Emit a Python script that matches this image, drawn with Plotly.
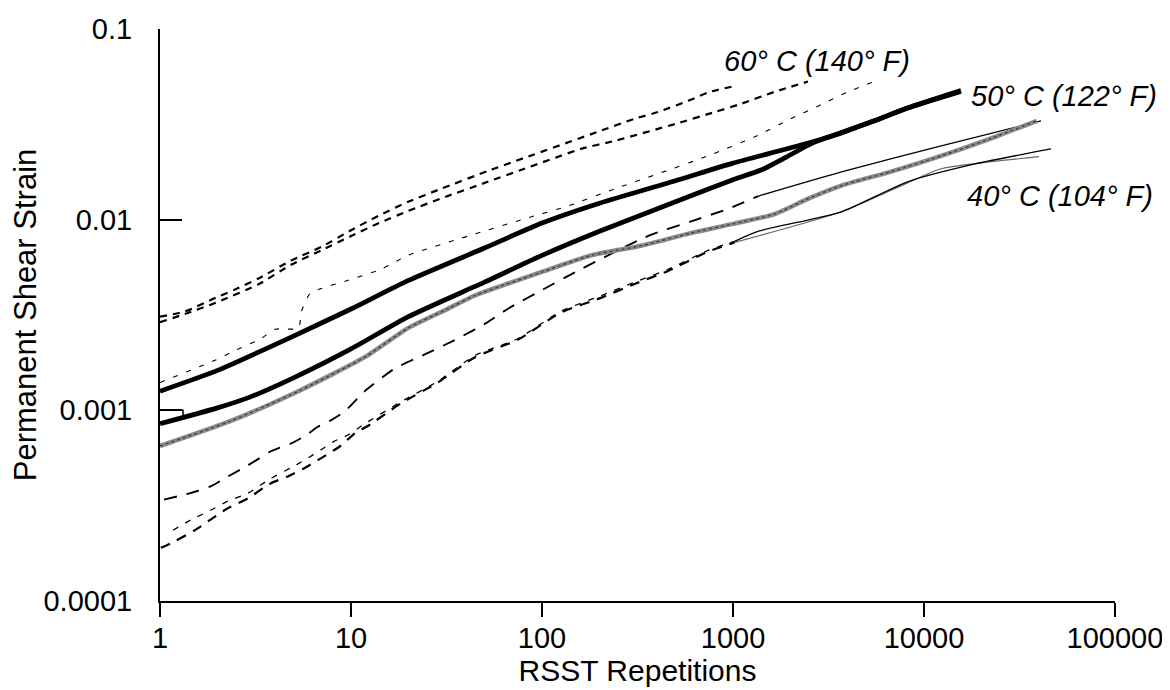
import math
import plotly.graph_objects as go

# ---------------- data ----------------
x_ticks = [1, 10, 100, 1000, 10000, 100000]
x_tick_text = ["1", "10", "100", "1000", "10000", "100000"]
y_ticks = [0.0001, 0.001, 0.01, 0.1]
y_tick_text = ["0.0001", "0.001", "0.01", "0.1"]

# 60 C (140 F) group
c60a_x = [1, 1.35, 1.96, 2.47, 3.26, 4.85, 7, 10, 14, 19.9, 29.5, 52, 81, 196, 305, 405, 600, 740, 1000]
c60a_y = [0.0031, 0.0033, 0.0039, 0.0043, 0.0049, 0.0061, 0.0072, 0.0088, 0.0105, 0.0124, 0.0145, 0.018, 0.0211, 0.0289, 0.0338, 0.0367, 0.0425, 0.0465, 0.050]

c60b_x = [1, 1.35, 2, 3.3, 4.85, 7, 10, 14, 19.9, 29.5, 52, 81, 160, 240, 500, 805, 1100, 1650, 2470]
c60b_y = [0.0029, 0.0032, 0.0037, 0.0046, 0.0058, 0.0069, 0.0082, 0.0096, 0.0111, 0.0129, 0.0158, 0.0185, 0.0235, 0.0259, 0.0318, 0.0367, 0.0405, 0.0468, 0.053]

c60c_x = [1, 1.94, 2.47, 3.38, 4.0, 5.3, 5.5, 6.1, 6.97, 9.6, 14.4, 19.9, 41, 81, 137, 240, 405, 740, 1300, 2000, 2800, 4000, 5500]
c60c_y = [0.0014, 0.00183, 0.00206, 0.00238, 0.00266, 0.0027, 0.0033, 0.0041, 0.00435, 0.0048, 0.0055, 0.0065, 0.0082, 0.0101, 0.0118, 0.0145, 0.0174, 0.0216, 0.0272, 0.0338, 0.0395, 0.0468, 0.053]

# 50 C (122 F) group (thick solid)
c50a_x = [1, 2, 5, 10, 20, 50, 100, 200, 500, 1000, 2200, 3700, 5500, 8200, 15600]
c50a_y = [0.00126, 0.00162, 0.00245, 0.0034, 0.0048, 0.0071, 0.0096, 0.0122, 0.016, 0.0198, 0.0244, 0.0285, 0.033, 0.0385, 0.047]

c50b_x = [1, 2, 3, 5, 10, 20, 50, 100, 200, 500, 1000, 1400, 1900, 2600, 3400, 5500, 8200, 15600]
c50b_y = [0.00085, 0.00103, 0.00118, 0.00148, 0.0021, 0.0031, 0.0047, 0.0065, 0.0087, 0.0124, 0.0162, 0.0182, 0.0213, 0.0252, 0.0278, 0.033, 0.0385, 0.0475]

box_x = [1, 1.32, 1.32]
box_y = [0.001, 0.001, 0.00093]

# grey hatched specimen
grey_x = [1, 2.35, 5.3, 11.8, 19.9, 32, 44.6, 99, 181, 330, 600, 1000, 1650, 2480, 3700, 6650, 12300, 22300, 39000]
grey_y = [0.00065, 0.00088, 0.00126, 0.0019, 0.0027, 0.0034, 0.004, 0.0053, 0.0065, 0.0073, 0.0085, 0.0095, 0.0107, 0.0129, 0.0151, 0.0178, 0.0216, 0.0266, 0.033]

# 40 C (104 F) group
l1_x = [1.05, 1.44, 1.85, 2.27, 2.89, 3.81, 4.85, 5.82, 6.7, 7.75, 9.3, 11.8, 17, 25.3, 36.2, 52, 66, 99, 149, 358, 604, 942, 1360]
l1_y = [0.00034, 0.000368, 0.0004, 0.00045, 0.000515, 0.00061, 0.00067, 0.00074, 0.00082, 0.00088, 0.00099, 0.00126, 0.00166, 0.002, 0.00238, 0.0029, 0.0034, 0.00425, 0.0053, 0.0082, 0.0098, 0.0114, 0.0133]
l1_tail_x = [1360, 3700, 12300, 41000]
l1_tail_y = [0.0133, 0.0178, 0.0244, 0.033]

l2_x = [1.17, 1.45, 1.85, 2.27, 2.89, 3.81, 4.85, 5.75, 6.95, 8.2, 9.6, 11.8, 18.3, 28.5, 44.6, 75, 125, 205, 305, 460, 740, 1020]
l2_y = [0.000235, 0.000266, 0.0003, 0.000334, 0.000368, 0.00044, 0.0005, 0.00055, 0.00062, 0.00069, 0.00074, 0.00085, 0.00111, 0.00142, 0.00194, 0.00238, 0.0033, 0.004, 0.0047, 0.0055, 0.0069, 0.0077]
l2_tail_x = [1020, 1360, 3700, 8200, 18500, 46200]
l2_tail_y = [0.0077, 0.0087, 0.011, 0.0158, 0.0196, 0.0235]

l3_x = [1.01, 1.2, 1.52, 1.89, 2.27, 2.89, 3.81, 4.67, 5.75, 6.95, 8.8, 10.5, 12.3, 18.3, 28.5, 44.6, 75, 125, 205, 305, 460, 740, 1020]
l3_y = [0.00019, 0.000206, 0.000235, 0.000272, 0.000307, 0.000346, 0.000415, 0.00045, 0.0005, 0.00056, 0.00065, 0.00076, 0.00083, 0.00109, 0.0014, 0.0019, 0.00235, 0.00325, 0.0039, 0.0046, 0.0054, 0.0068, 0.0076]
l3_tail_x = [1020, 3700, 8200, 12300, 40000]
l3_tail_y = [0.0076, 0.011, 0.0156, 0.0185, 0.0214]

labels = ["60° C (140° F)", "50° C (122° F)", "40° C (104° F)"]
label_x = [2750, 54000, 51500]
label_y = [0.0679, 0.0446, 0.01337]

# ---------------- figure ----------------
FONT = "Liberation Sans, Arial, Helvetica, sans-serif"
fig = go.Figure()

def add(x, y, color="black", width=1.5, dash="solid"):
    fig.add_trace(go.Scatter(x=x, y=y, mode="lines", showlegend=False, hoverinfo="skip",
                             line=dict(color=color, width=width, dash=dash, shape="spline", smoothing=0.6)))

# 40 C group
add(l3_x, l3_y, width=2.2, dash="10px,8px")
add(l3_tail_x, l3_tail_y, color="#666666", width=1.2)
add(l2_x, l2_y, width=1.3, dash="6px,8px")
add(l2_tail_x, l2_tail_y, width=1.3)
add(l1_x, l1_y, width=1.9, dash="13px,10px")
add(l1_tail_x, l1_tail_y, width=1.3)
# grey hatched specimen
add(grey_x, grey_y, color="#8a8a8a", width=4.5)
add(grey_x, grey_y, color="#3a3a3a", width=1.2, dash="dot")
# 50 C group
add(c50b_x, c50b_y, width=4.8)
add(c50a_x, c50a_y, width=4.8)
fig.add_trace(go.Scatter(x=box_x, y=box_y, mode="lines", showlegend=False, hoverinfo="skip",
                         line=dict(color="black", width=1.5)))
# 60 C group
add(c60c_x, c60c_y, width=1.1, dash="5px,9px")
add(c60b_x, c60b_y, width=2.2, dash="7px,6px")
add(c60a_x, c60a_y, width=2.2, dash="7px,6px")

for t, lx, ly in zip(labels, label_x, label_y):
    fig.add_annotation(x=math.log10(lx), y=math.log10(ly), xref="x", yref="y",
                       text="<i>" + t + "</i>", showarrow=False,
                       font=dict(family=FONT, size=29, color="black"),
                       xanchor="center", yanchor="middle")

fig.update_layout(
    width=1170, height=690,
    margin=dict(l=152, r=63, t=21, b=97, autoexpand=False),
    paper_bgcolor="white", plot_bgcolor="white",
    font=dict(family=FONT, color="black"),
    xaxis=dict(type="log", range=[0, 5], tickvals=x_ticks, ticktext=x_tick_text,
               showgrid=False, zeroline=False, showline=True, linecolor="black", linewidth=2,
               ticks="outside", ticklen=14, tickwidth=2, tickcolor="black",
               tickfont=dict(size=29, family=FONT), ticklabelstandoff=-4,
               title=dict(text="RSST Repetitions", font=dict(size=30, family=FONT), standoff=0)),
    yaxis=dict(type="log", range=[-4, -1], tickvals=y_ticks, ticktext=y_tick_text,
               showgrid=False, zeroline=False, showline=True, linecolor="black", linewidth=2,
               ticks="inside", ticklen=22, tickwidth=2, tickcolor="black",
               tickfont=dict(size=29, family=FONT), ticklabelstandoff=20,
               title=dict(text="Permanent Shear Strain", font=dict(size=31, family=FONT), standoff=0)),
)

fig.write_html("out.html")
